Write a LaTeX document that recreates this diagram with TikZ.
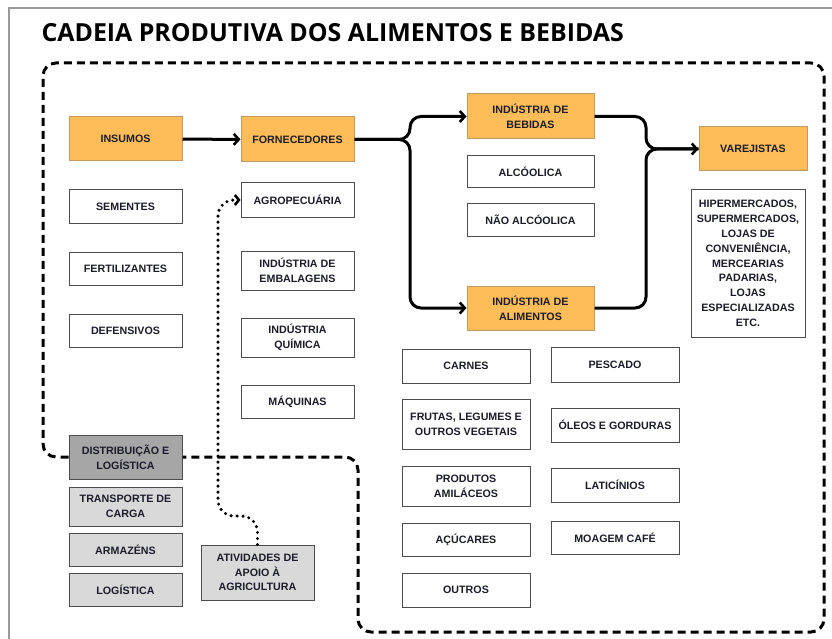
\documentclass[tikz,border=0pt]{standalone}
\usepackage{fontspec}
\setmainfont{Liberation Sans}
\newfontfamily\titlefont{Open Sans}
\usetikzlibrary{arrows.meta}
\definecolor{laranja}{HTML}{FFBD59}
\definecolor{laranjaborda}{HTML}{C49A62}
\definecolor{cinzaescuro}{HTML}{A6A6A6}
\definecolor{cinzaclaro}{HTML}{D9D9D9}
\definecolor{textocor}{HTML}{1C1C28}
\begin{document}
\begin{tikzpicture}[x=1pt,y=-1pt,
  caixa/.style={draw=black!70,line width=1pt,fill=white,align=center,
    text=textocor,inner sep=1pt,
    font=\fontsize{10.7}{14.8}\selectfont\bfseries},
  elo/.style={caixa,fill=laranja,draw=laranjaborda},
  logbox/.style={caixa,fill=cinzaclaro},
  fluxo/.style={line width=3pt,-{Straight Barb[length=5pt,width=11pt,line width=2.6pt]},rounded corners=11},
  fluxolinha/.style={line width=3pt,rounded corners=11}]
\useasboundingbox (0,0) rectangle (832,639);
\draw[black!40,line width=1.5pt] (9,639) -- (9,8) -- (832,8);

\node[anchor=west,text=black,font=\titlefont\fontsize{24.9}{28}\selectfont\bfseries] (titulo) at (38,33) {CADEIA PRODUTIVA DOS ALIMENTOS E BEBIDAS};

% primeira coluna
\node[elo,minimum width=113,minimum height=44] (insumos) at (125.5,139) {INSUMOS};
\node[caixa,minimum width=113,minimum height=33] (sementes) at (125.5,206.5) {SEMENTES};
\node[caixa,minimum width=113,minimum height=33] (fertilizantes) at (125.5,268.5) {FERTILIZANTES};
\node[caixa,minimum width=113,minimum height=33] (defensivos) at (125.5,330.5) {DEFENSIVOS};
\node[caixa,fill=cinzaescuro,minimum width=113,minimum height=44] (distrib) at (125.5,457) {DISTRIBUIÇÃO E\\LOGÍSTICA};
\node[logbox,minimum width=113,minimum height=39] (transporte) at (125.5,506.5) {TRANSPORTE DE\\CARGA};
\node[logbox,minimum width=113,minimum height=33] (armazens) at (125.5,549.5) {ARMAZÉNS};
\node[logbox,minimum width=113,minimum height=33] (logistica) at (125.5,589.5) {LOGÍSTICA};

% fornecedores
\node[elo,minimum width=113,minimum height=45] (fornec) at (297.5,139.5) {FORNECEDORES};
\node[caixa,minimum width=113,minimum height=34] (agro) at (297.5,200) {AGROPECUÁRIA};
\node[caixa,minimum width=113,minimum height=39] (embal) at (297.5,270.5) {INDÚSTRIA DE\\EMBALAGENS};
\node[caixa,minimum width=113,minimum height=39] (quimica) at (297.5,337.5) {INDÚSTRIA\\QUÍMICA};
\node[caixa,minimum width=113,minimum height=33] (maquinas) at (297.5,401.5) {MÁQUINAS};
\node[logbox,minimum width=113,minimum height=55] (apoio) at (257.5,572.5) {ATIVIDADES DE\\APOIO À\\AGRICULTURA};

% industrias
\node[elo,minimum width=127,minimum height=45] (bebidas) at (530.5,116.5) {INDÚSTRIA DE\\BEBIDAS};
\node[caixa,minimum width=127,minimum height=32] (alcoolica) at (530.5,172) {ALCÓOLICA};
\node[caixa,minimum width=127,minimum height=33] (naoalcoolica) at (530.5,219.5) {NÃO ALCÓOLICA};
\node[elo,minimum width=127,minimum height=44] (alimentos) at (530.5,308) {INDÚSTRIA DE\\ALIMENTOS};

\node[caixa,minimum width=128,minimum height=34] (carnes) at (466,366) {CARNES};
\node[caixa,minimum width=128,minimum height=50] (frutas) at (466,424) {FRUTAS, LEGUMES E\\OUTROS VEGETAIS};
\node[caixa,minimum width=128,minimum height=40] (amilaceos) at (466,486) {PRODUTOS\\AMILÁCEOS};
\node[caixa,minimum width=128,minimum height=33] (acucares) at (466,539.5) {AÇÚCARES};
\node[caixa,minimum width=128,minimum height=34] (outros) at (466,590) {OUTROS};
\node[caixa,minimum width=128,minimum height=35] (pescado) at (615,364.5) {PESCADO};
\node[caixa,minimum width=128,minimum height=34] (oleos) at (615,425) {ÓLEOS E GORDURAS};
\node[caixa,minimum width=128,minimum height=34] (laticinios) at (615,485) {LATICÍNIOS};
\node[caixa,minimum width=128,minimum height=33] (moagem) at (615,537.5) {MOAGEM CAFÉ};

% varejo
\node[elo,minimum width=108,minimum height=44] (varejistas) at (753,149) {VAREJISTAS};
\node[caixa,minimum width=114,minimum height=147] (lojas) at (748,263.5) {HIPERMERCADOS,\\SUPERMERCADOS,\\LOJAS DE\\CONVENIÊNCIA,\\MERCEARIAS\\PADARIAS,\\LOJAS\\ESPECIALIZADAS\\ETC.};

% contorno tracejado
\draw[line width=3pt,dash pattern=on 8pt off 5pt,rounded corners=13]
  (distrib.west) -| (43,63) -- (824,63) -- (824,632) -- (358,632) |- (distrib.east);

% setas
\draw[fluxo,rounded corners=0] (insumos) -- (fornec);
\draw[fluxo] (fornec.east) -| (410,116.5) -- (bebidas.west);
\draw[fluxo] (fornec.east) -| (410,308) -- (alimentos.west);
\draw[fluxolinha] (bebidas.east) -| (646,149) -- (varejistas.west);
\draw[fluxo] (alimentos.east) -| (646,149) -- (varejistas.west);
\draw[line width=3.4pt,line cap=round,dash pattern=on 0pt off 6pt,rounded corners=16,
  -{Straight Barb[length=4pt,width=10pt,line width=2.6pt]}]
  (apoio.north) |- (218,516) |- (agro.west);
\end{tikzpicture}
\end{document}
